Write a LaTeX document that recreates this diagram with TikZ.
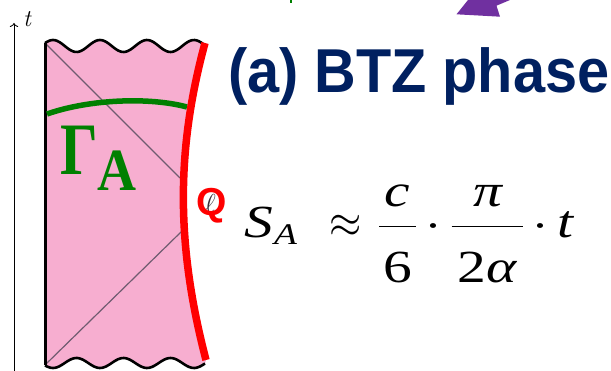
\RequirePackage{fix-cm}
\documentclass[tikz,border=0pt]{standalone}
\usepackage{fontspec}
\newfontfamily\titlefont{Liberation Sans}
\newfontfamily\timesfont{Liberation Serif}
\usepackage{tikz}
\usetikzlibrary{arrows.meta,calc}

\definecolor{stripfill}{RGB}{247,174,208}
\definecolor{titlenavy}{RGB}{0,32,96}
\definecolor{gammagreen}{RGB}{0,128,0}
\definecolor{nullgray}{RGB}{112,92,112}
\definecolor{markpurple}{RGB}{112,48,160}

\newcommand{\tmi}[1]{\hbox{\timesfont\itshape #1}}
\newcommand{\tmr}[1]{\hbox{\timesfont #1}}

\begin{document}
\begin{tikzpicture}[x=1pt, y=-1pt,
    wave/.style={black, line width=2.6pt, line join=round},
    nullray/.style={nullgray, line width=1.2pt},
    brane/.style={red, line width=7.5pt},
    surface/.style={gammagreen, line width=5.5pt},
    label/.style={inner sep=0pt, anchor=base west}]

  \useasboundingbox (0,0) rectangle (611,371);

  % Strip of spacetime
  \fill[stripfill] plot[domain=45:205, samples=80] (\x, {46-6*cos(7.66*(\x-53))})
    .. controls (176,150) and (176,245) .. (206,360)
    -- plot[domain=205:45, samples=80] (\x, {363+5*cos(7.66*(\x-53))}) -- cycle;

  % Corners
  \coordinate (tl) at (45,43);
  \coordinate (bl) at (45,365);
  \coordinate (tr) at (205,43);
  \coordinate (br) at (206,360);
  \coordinate (hitup) at (180,178);
  \coordinate (hitdown) at (181,232);

  % Null rays
  \draw[nullray] (tl) -- (hitup);
  \draw[nullray] (bl) -- (hitdown);

  % Edges
  \draw[black, line width=3pt] (tl) -- (bl);
  \draw[wave] plot[domain=45:205, samples=80] (\x, {46-6*cos(7.66*(\x-53))});
  \draw[wave] plot[domain=45:205, samples=80] (\x, {363+5*cos(7.66*(\x-53))});

  % Surface Gamma_A
  \draw[surface] (47,114) .. controls (90,99) and (150,97) .. (187,107);

  % Brane Q
  \draw[brane] (tr) .. controls (176,150) and (176,245) .. (br);

  % Time axis
  \coordinate (axisbot) at (14,371);
  \coordinate (axistop) at (14,23);
  \draw[-{To[length=4pt]}, line width=0.8pt] (axisbot) -- (axistop);
  \node[label] (tlab) at (23,27) {\fontsize{24}{24}\selectfont\textit{t}};

  % Labels
  \node[label, gammagreen] (gamma) at (60,175)
    {\timesfont\bfseries\scalebox{0.8}[1]{\fontsize{74}{74}\selectfont Γ}\raisebox{-16pt}{\scalebox{0.9}[1]{\fontsize{60}{60}\selectfont A}}};
  \node[label, nullgray!50!black] (ell) at (205,213) {\fontsize{26}{26}\selectfont$\ell$};
  \node[label, red] (qlab) at (196,216) {\titlefont\bfseries\fontsize{39}{39}\selectfont Q};

  \node[label, titlenavy] (title) at (228,93)
    {\scalebox{0.93}[1]{\titlefont\bfseries\fontsize{62}{62}\selectfont (a) BTZ phase}};

  \node[label] (entropy) at (244,238)
    {\scalebox{1.25}[1]{\fontsize{46}{46}\selectfont\medmuskip=2.6mu$\displaystyle
      \tmi{S}_{\hbox{\kern1pt\fontsize{30}{30}\selectfont\timesfont\itshape A}}\;\mathrel{\scalebox{0.72}[1]{$\approx$}}
      \frac{\hspace{4.5pt}\tmi{c}\hspace{4.5pt}}{\raisebox{-13pt}{\tmr{6}}}\cdot
      \frac{\tmi{π}}{\raisebox{-13pt}{\hspace{5pt}\tmr{2}\tmi{α}\hspace{5pt}}}\cdot\tmi{t}$}};

  % Cut pieces at the top
  \draw[gammagreen, line width=2pt] (291,0) -- (291,3);
  \fill[markpurple] (468,0) -- (456.5,14.3) -- (500,16.7) -- (496.5,5.7) -- (510,0) -- cycle;

\end{tikzpicture}
\end{document}
